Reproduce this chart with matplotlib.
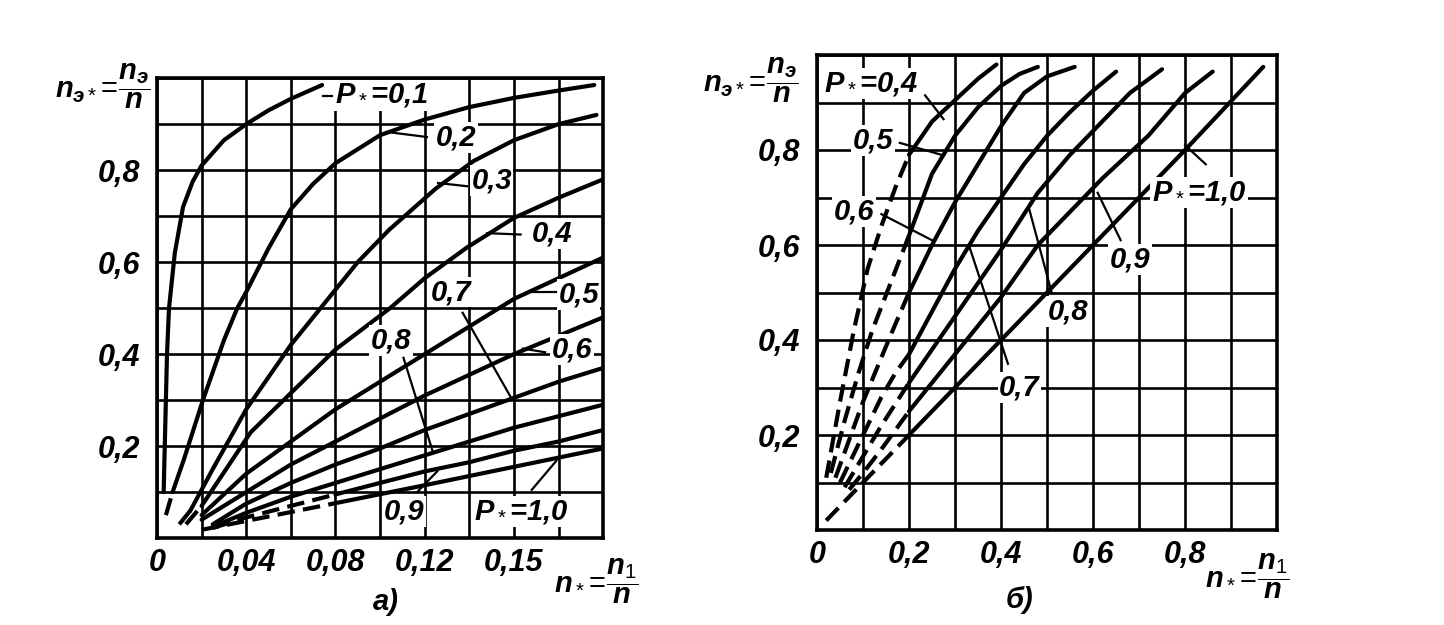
import numpy as np
import matplotlib
matplotlib.use("Agg")
import matplotlib.pyplot as plt
from matplotlib import font_manager

# ---------------- data ----------------
# panel a: n_e* versus n*, curves P* = 0.1 ... 1.0
a_xticks = [0, 0.02, 0.04, 0.06, 0.08, 0.10, 0.12, 0.14, 0.16, 0.18, 0.20]
a_xlabels = ['0', '', '0,04', '', '0,08', '', '0,12', '', '0,15', '', '']
a_yticks = [0, 0.1, 0.2, 0.3, 0.4, 0.5, 0.6, 0.7, 0.8, 0.9, 1.0]
a_ylabels = ['', '', '0,2', '', '0,4', '', '0,6', '', '0,8', '', '']

a_x_p01 = [0.003, 0.0035, 0.004, 0.0045, 0.0054, 0.008, 0.0117, 0.016, 0.02, 0.03, 0.04, 0.05, 0.06, 0.074]
a_y_p01 = [0.10, 0.20, 0.30, 0.40, 0.50, 0.62, 0.72, 0.775, 0.81, 0.865, 0.90, 0.93, 0.955, 0.985]
a_x_p02 = [0.007, 0.012, 0.0206, 0.03, 0.036, 0.04, 0.05, 0.06, 0.07, 0.08, 0.10, 0.12, 0.14, 0.16, 0.18, 0.196]
a_y_p02 = [0.10, 0.17, 0.30, 0.43, 0.50, 0.535, 0.63, 0.715, 0.77, 0.815, 0.876, 0.91, 0.937, 0.957, 0.973, 0.985]
a_x_p03 = [0.015, 0.025, 0.04, 0.06, 0.075, 0.09, 0.104, 0.125, 0.142, 0.16, 0.18, 0.197]
a_y_p03 = [0.06, 0.15, 0.28, 0.42, 0.51, 0.60, 0.67, 0.76, 0.82, 0.865, 0.90, 0.92]
a_x_p04 = [0.02, 0.042, 0.061, 0.08, 0.1045, 0.12, 0.139, 0.16, 0.18, 0.20]
a_y_p04 = [0.07, 0.23, 0.32, 0.41, 0.50, 0.565, 0.632, 0.696, 0.74, 0.78]
a_x_p05 = [0.02, 0.04, 0.06, 0.08, 0.10, 0.12, 0.14, 0.16, 0.18, 0.20]
a_y_p05 = [0.05, 0.14, 0.21, 0.28, 0.34, 0.40, 0.46, 0.52, 0.565, 0.61]
a_x_p06 = [0.02, 0.04, 0.06, 0.08, 0.10, 0.12, 0.14, 0.16, 0.18, 0.20]
a_y_p06 = [0.04, 0.10, 0.16, 0.21, 0.26, 0.31, 0.355, 0.40, 0.44, 0.48]
a_x_p07 = [0.025, 0.04, 0.06, 0.08, 0.10, 0.12, 0.14, 0.16, 0.18, 0.20]
a_y_p07 = [0.03, 0.075, 0.12, 0.16, 0.195, 0.235, 0.27, 0.305, 0.34, 0.37]
a_x_p08 = [0.025, 0.04, 0.06, 0.08, 0.10, 0.12, 0.14, 0.16, 0.18, 0.20]
a_y_p08 = [0.025, 0.055, 0.09, 0.12, 0.15, 0.18, 0.21, 0.24, 0.265, 0.29]
a_x_p09_dash = [0.025, 0.04, 0.06, 0.08]
a_y_p09_dash = [0.022, 0.045, 0.07, 0.095]
a_x_p09 = [0.08, 0.10, 0.12, 0.14, 0.16, 0.18, 0.20]
a_y_p09 = [0.095, 0.12, 0.145, 0.165, 0.19, 0.21, 0.235]
a_x_p10_dash = [0.02, 0.05, 0.08]
a_y_p10_dash = [0.018, 0.047, 0.076]
a_x_p10 = [0.08, 0.12, 0.16, 0.20]
a_y_p10 = [0.076, 0.115, 0.155, 0.195]
# short dashed starts near the origin
a_x_p02_dash = [0.004, 0.007]
a_y_p02_dash = [0.05, 0.10]
a_x_p03_dash = [0.010, 0.015]
a_y_p03_dash = [0.03, 0.06]
a_x_p04_dash = [0.013, 0.02]
a_y_p04_dash = [0.03, 0.07]

# panel b: n_e* versus n*, curves P* = 0.4 ... 1.0 (dashed below n* = 0.2)
b_xticks = [0, 0.1, 0.2, 0.3, 0.4, 0.5, 0.6, 0.7, 0.8, 0.9, 1.0]
b_xlabels = ['0', '', '0,2', '', '0,4', '', '0,6', '', '0,8', '', '']
b_yticks = [0, 0.1, 0.2, 0.3, 0.4, 0.5, 0.6, 0.7, 0.8, 0.9, 1.0]
b_ylabels = ['', '', '0,2', '', '0,4', '', '0,6', '', '0,8', '', '']

b_x_p04_dash = [0.02, 0.05, 0.08, 0.11, 0.14, 0.17, 0.20]
b_y_p04_dash = [0.11, 0.27, 0.42, 0.55, 0.64, 0.72, 0.79]
b_x_p04 = [0.20, 0.25, 0.30, 0.35, 0.39]
b_y_p04 = [0.79, 0.86, 0.905, 0.95, 0.98]
b_x_p05_dash = [0.03, 0.06, 0.09, 0.12, 0.16, 0.20]
b_y_p05_dash = [0.12, 0.23, 0.33, 0.42, 0.52, 0.62]
b_x_p05 = [0.20, 0.25, 0.30, 0.35, 0.40, 0.44, 0.48]
b_y_p05 = [0.62, 0.75, 0.83, 0.89, 0.935, 0.96, 0.975]
b_x_p06_dash = [0.04, 0.07, 0.10, 0.13, 0.16, 0.20]
b_y_p06_dash = [0.11, 0.19, 0.27, 0.34, 0.41, 0.50]
b_x_p06 = [0.20, 0.25, 0.30, 0.35, 0.40, 0.45, 0.50, 0.56]
b_y_p06 = [0.50, 0.60, 0.69, 0.77, 0.85, 0.92, 0.955, 0.975]
b_x_p07_dash = [0.05, 0.08, 0.11, 0.14, 0.17, 0.20]
b_y_p07_dash = [0.10, 0.16, 0.22, 0.28, 0.33, 0.37]
b_x_p07 = [0.20, 0.25, 0.30, 0.35, 0.40, 0.45, 0.50, 0.55, 0.60, 0.65]
b_y_p07 = [0.37, 0.46, 0.55, 0.63, 0.70, 0.77, 0.83, 0.88, 0.925, 0.965]
b_x_p08_dash = [0.06, 0.10, 0.14, 0.17, 0.20]
b_y_p08_dash = [0.09, 0.155, 0.22, 0.265, 0.31]
b_x_p08 = [0.20, 0.30, 0.40, 0.48, 0.55, 0.61, 0.68, 0.75]
b_y_p08 = [0.31, 0.45, 0.59, 0.71, 0.79, 0.85, 0.92, 0.97]
b_x_p09_dash = [0.07, 0.10, 0.14, 0.17, 0.20]
b_y_p09_dash = [0.085, 0.12, 0.17, 0.21, 0.25]
b_x_p09 = [0.20, 0.30, 0.40, 0.48, 0.55, 0.62, 0.72, 0.80, 0.86]
b_y_p09 = [0.25, 0.37, 0.49, 0.60, 0.67, 0.74, 0.83, 0.92, 0.965]
b_x_p10_dash = [0.02, 0.11, 0.20]
b_y_p10_dash = [0.02, 0.11, 0.20]
b_x_p10 = [0.20, 0.40, 0.60, 0.80, 0.97]
b_y_p10 = [0.20, 0.40, 0.60, 0.80, 0.975]

# ---------------- fonts ----------------
names = {f.name for f in font_manager.fontManager.ttflist}
FONT = 'Liberation Sans' if 'Liberation Sans' in names else 'DejaVu Sans'
plt.rcParams['font.family'] = [FONT, 'DejaVu Sans']
plt.rcParams['mathtext.fontset'] = 'custom'
plt.rcParams['mathtext.rm'] = FONT
plt.rcParams['mathtext.it'] = FONT + ':italic:bold'
plt.rcParams['mathtext.bf'] = FONT + ':bold'

TICK_FS = 22
LAB_FS = 21
TXT = dict(fontstyle='italic', fontweight='bold', fontsize=LAB_FS)
LW_CURVE = 3.0
LW_GRID = 1.9
LW_LEAD = 1.6
DASH = (0, (4.2, 2.0))
BOX = dict(facecolor='white', edgecolor='none', pad=1.0)

fig = plt.figure(figsize=(14.44, 6.25), dpi=100)
fig.patch.set_facecolor('white')

axa = fig.add_axes([0.1087, 0.139, 0.309, 0.736])
axb = fig.add_axes([0.5658, 0.152, 0.3186, 0.76])


def style_axes(ax, xt, xl, yt, yl, xlim, ylim):
    ax.set_xlim(*xlim)
    ax.set_ylim(*ylim)
    ax.set_xticks(xt)
    ax.set_xticklabels(xl)
    ax.set_yticks(yt)
    ax.set_yticklabels(yl)
    ax.tick_params(length=0, labelsize=TICK_FS)
    ax.tick_params(axis='x', pad=7)
    ax.tick_params(axis='y', pad=12)
    for lab in ax.get_xticklabels() + ax.get_yticklabels():
        lab.set_fontstyle('italic')
        lab.set_fontweight('bold')
    ax.grid(True, color='black', lw=LW_GRID)
    ax.set_axisbelow(True)
    for s in ax.spines.values():
        s.set_linewidth(2.6)
        s.set_zorder(6)


def curve(ax, x, y, dashed=False):
    ax.plot(x, y, color='black', lw=LW_CURVE, solid_capstyle='round',
            solid_joinstyle='round', ls=DASH if dashed else '-', zorder=3)


def label(ax, x, y, s, lead=None):
    ax.text(x, y, s, ha='center', va='center', bbox=BOX, zorder=4, **TXT)
    if lead is not None:
        ax.plot(lead[0], lead[1], color='black', lw=LW_LEAD, zorder=4)


# ---------------- panel a ----------------
style_axes(axa, a_xticks, a_xlabels, a_yticks, a_ylabels, (0, 0.2), (0, 1.0))
for xs, ys in [(a_x_p01, a_y_p01), (a_x_p02, a_y_p02), (a_x_p03, a_y_p03),
               (a_x_p04, a_y_p04), (a_x_p05, a_y_p05), (a_x_p06, a_y_p06),
               (a_x_p07, a_y_p07), (a_x_p08, a_y_p08), (a_x_p09, a_y_p09),
               (a_x_p10, a_y_p10)]:
    curve(axa, xs, ys)
for xs, ys in [(a_x_p09_dash, a_y_p09_dash), (a_x_p10_dash, a_y_p10_dash),
               (a_x_p02_dash, a_y_p02_dash), (a_x_p03_dash, a_y_p03_dash),
               (a_x_p04_dash, a_y_p04_dash)]:
    curve(axa, xs, ys, dashed=True)

label(axa, 0.1005, 0.963, r'$P_*$=0,1', lead=([0.0745, 0.0785], [0.962, 0.962]))
label(axa, 0.134, 0.870, '0,2', lead=([0.121, 0.103], [0.872, 0.883]))
label(axa, 0.150, 0.778, '0,3', lead=([0.139, 0.126], [0.765, 0.772]))
label(axa, 0.177, 0.663, '0,4', lead=([0.163, 0.148], [0.660, 0.663]))
label(axa, 0.189, 0.530, '0,5', lead=([0.179, 0.168], [0.535, 0.535]))
label(axa, 0.186, 0.410, '0,6', lead=([0.174, 0.164], [0.404, 0.412]))
label(axa, 0.132, 0.535, '0,7', lead=([0.137, 0.159], [0.49, 0.303]))
label(axa, 0.105, 0.430, '0,8', lead=([0.1105, 0.1235], [0.392, 0.19]))
label(axa, 0.111, 0.057, '0,9', lead=([0.1166, 0.1256], [0.1, 0.145]))
label(axa, 0.1635, 0.057, r'$P_*$=1,0', lead=([0.168, 0.179], [0.105, 0.168]))

# ---------------- panel b ----------------
style_axes(axb, b_xticks, b_xlabels, b_yticks, b_ylabels, (0, 1.0), (0, 1.0))
for xs, ys in [(b_x_p04, b_y_p04), (b_x_p05, b_y_p05), (b_x_p06, b_y_p06),
               (b_x_p07, b_y_p07), (b_x_p08, b_y_p08), (b_x_p09, b_y_p09),
               (b_x_p10, b_y_p10)]:
    curve(axb, xs, ys)
for xs, ys in [(b_x_p04_dash, b_y_p04_dash), (b_x_p05_dash, b_y_p05_dash),
               (b_x_p06_dash, b_y_p06_dash), (b_x_p07_dash, b_y_p07_dash),
               (b_x_p08_dash, b_y_p08_dash), (b_x_p09_dash, b_y_p09_dash),
               (b_x_p10_dash, b_y_p10_dash)]:
    curve(axb, xs, ys, dashed=True)

label(axb, 0.118, 0.940, r'$P_*$=0,4', lead=([0.235, 0.275], [0.915, 0.865]))
label(axb, 0.122, 0.820, '0,5', lead=([0.18, 0.27], [0.815, 0.79]))
label(axb, 0.080, 0.670, '0,6', lead=([0.14, 0.25], [0.665, 0.61]))
label(axb, 0.440, 0.300, '0,7', lead=([0.415, 0.33], [0.35, 0.60]))
label(axb, 0.545, 0.460, '0,8', lead=([0.51, 0.46], [0.50, 0.68]))
label(axb, 0.680, 0.570, '0,9', lead=([0.66, 0.61], [0.61, 0.71]))
label(axb, 0.830, 0.710, r'$P_*$=1,0', lead=([0.845, 0.80], [0.77, 0.81]))

# ---------------- axis titles and panel letters ----------------
fig.text(0.071, 0.862, r'$n_{э*}\!=\!\dfrac{n_э}{n}$', ha='center', va='center', fontsize=21)
fig.text(0.413, 0.070, r'$n_*\!=\!\dfrac{n_1}{n}$', ha='center', va='center', fontsize=21)
fig.text(0.520, 0.872, r'$n_{э*}\!=\!\dfrac{n_э}{n}$', ha='center', va='center', fontsize=21)
fig.text(0.864, 0.078, r'$n_*\!=\!\dfrac{n_1}{n}$', ha='center', va='center', fontsize=21)
fig.text(0.267, 0.037, 'а)', ha='center', va='center', **TXT)
fig.text(0.706, 0.040, 'б)', ha='center', va='center', **TXT)

fig.savefig('out.png', dpi=100, facecolor='white')
